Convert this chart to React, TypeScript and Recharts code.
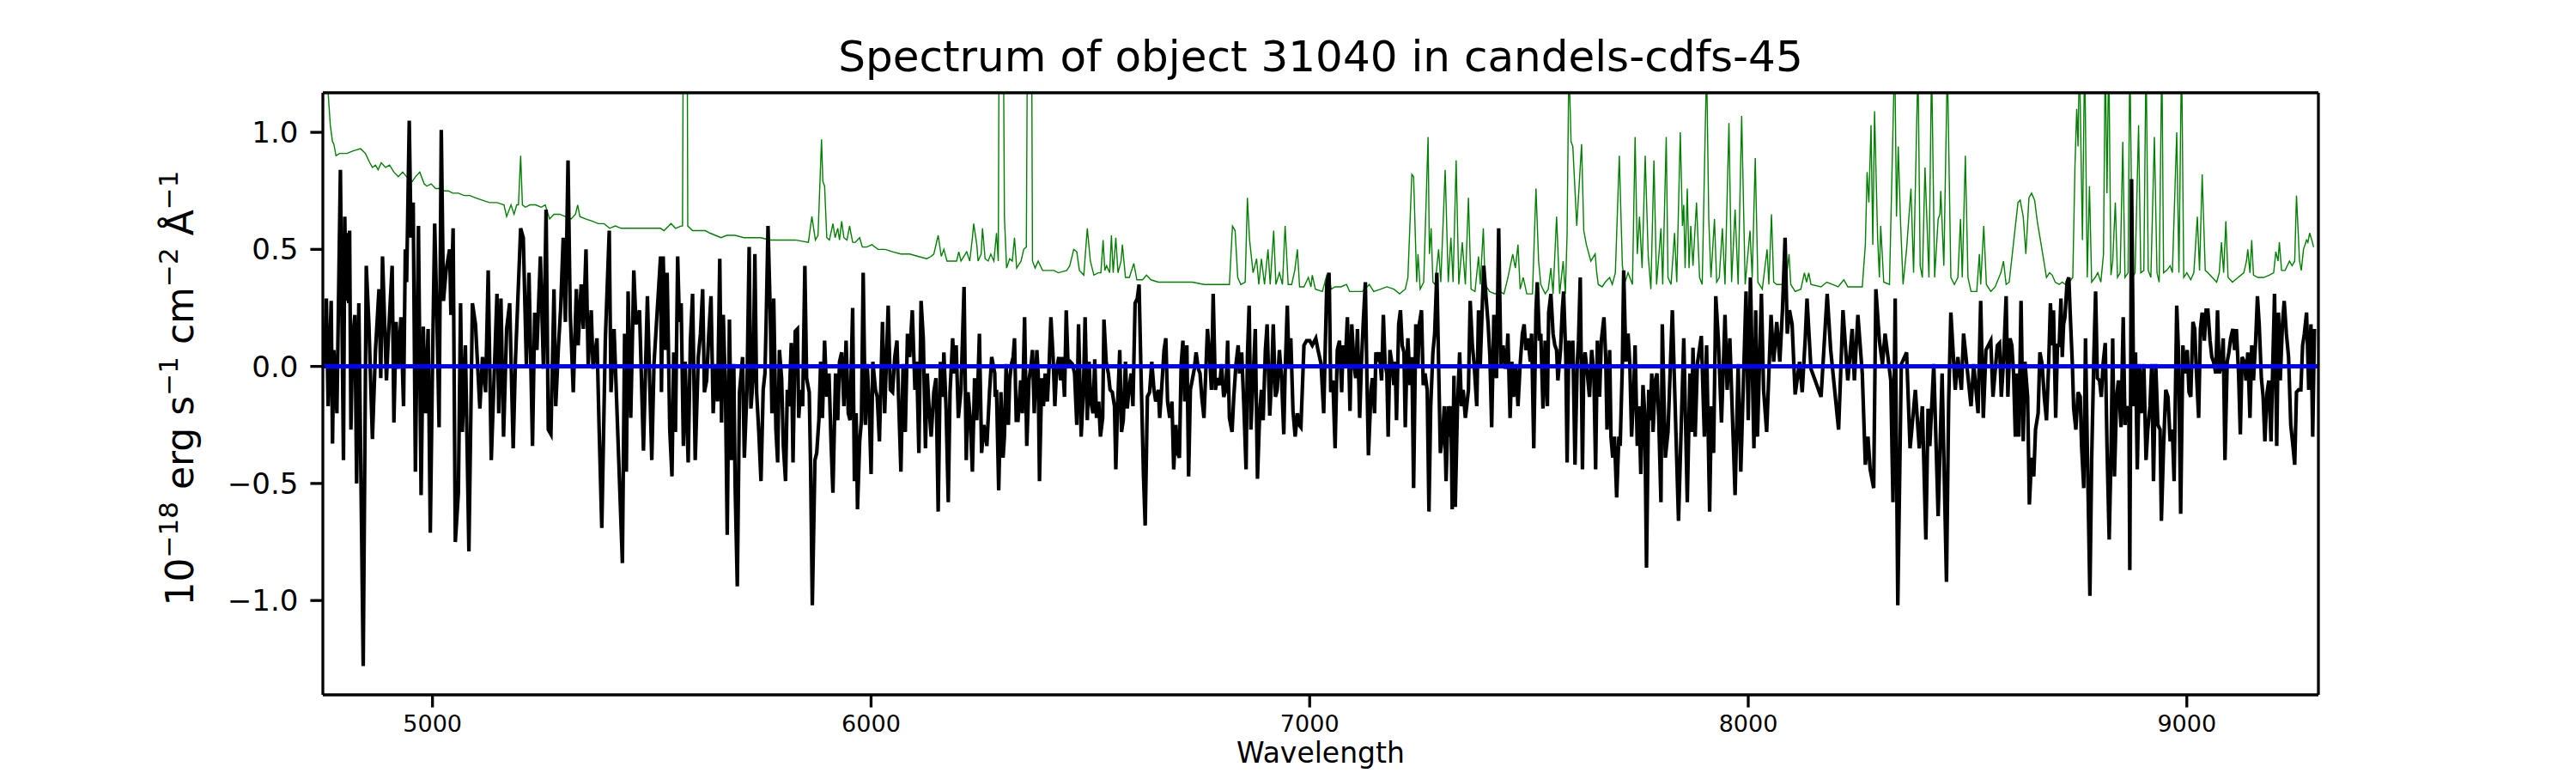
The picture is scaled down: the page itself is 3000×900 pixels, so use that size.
import React from 'react'
import { LineChart, Line, XAxis, YAxis, ReferenceLine } from 'recharts'

// wavelength (Angstrom), flux (1e-18 erg/s/cm2/A)
const spectrumFlux: [number, number][] = [
  [4754,0.01],[4758,0.29],[4762,-0.17],[4769,0.28],[4772,-0.33],[4775,0.07],[4782,-0.20],[4790,0.84],[4797,-0.40],[4800,0.64],
  [4803,0.28],[4807,0.57],[4809,0.27],[4811,0.58],[4814,-0.27],[4818,0.12],[4823,0.22],[4827,-0.50],[4832,0.27],[4842,-1.28],
  [4849,0.43],[4855,0.18],[4863,-0.31],[4870,0.07],[4878,0.33],[4882,-0.05],[4886,0.47],[4895,-0.06],[4899,0.11],[4908,0.43],
  [4912,-0.24],[4917,0.19],[4922,-0.01],[4928,0.21],[4934,-0.17],[4938,0.50],[4941,0.36],[4947,1.05],[4951,0.55],[4956,0.70],
  [4961,-0.45],[4968,0.60],[4974,-0.55],[4979,0.17],[4984,-0.20],[4990,0.16],[4995,-0.71],[5000,0.01],[5005,0.61],[5010,0.22],
  [5015,-0.26],[5020,1.01],[5025,0.28],[5031,0.41],[5039,0.50],[5042,0.22],[5047,0.59],[5052,-0.75],[5059,-0.54],[5064,0.27],
  [5068,-0.28],[5075,0.09],[5083,-0.79],[5091,0.27],[5098,0.18],[5108,-0.18],[5114,0.04],[5121,-0.11],[5127,0.41],[5134,-0.40],
  [5147,0.31],[5151,-0.20],[5156,0.29],[5162,-0.30],[5169,0.16],[5176,0.27],[5184,-0.35],[5189,0.02],[5201,0.59],[5207,0.55],
  [5214,0.01],[5220,0.40],[5228,-0.34],[5233,0.23],[5238,0.07],[5246,0.47],[5253,-0.01],[5259,0.67],[5264,-0.27],[5270,-0.29],
  [5277,0.33],[5281,-0.17],[5287,0.08],[5292,0.24],[5298,0.55],[5303,0.19],[5309,0.88],[5314,0.23],[5321,-0.11],[5328,0.33],
  [5332,0.09],[5339,0.35],[5344,0.16],[5350,0.50],[5355,0.01],[5362,0.24],[5366,-0.01],[5375,0.12],[5380,-0.27],[5386,-0.69],
  [5394,0.11],[5403,0.58],[5407,-0.11],[5414,0.16],[5433,-0.84],[5438,0.14],[5442,-0.45],[5446,0.32],[5452,-0.22],[5459,0.41],
  [5464,0.18],[5472,0.24],[5481,-0.36],[5490,0.30],[5500,-0.40],[5505,0.01],[5520,0.47],
  [5522,-0.11],[5526,0.47],[5531,0.07],[5535,0.40],[5541,-0.27],[5546,-0.47],[5550,0.06],[5554,-0.28],[5559,0.47],[5563,0.19],
  [5567,0.27],[5572,-0.34],[5576,0.02],[5583,-0.41],[5588,0.11],[5593,0.31],[5599,-0.40],[5606,0.04],[5611,0.14],[5616,0.33],
  [5620,-0.11],[5625,-0.06],[5630,0.14],[5635,0.30],[5640,-0.20],[5645,0.01],[5650,-0.15],[5655,0.46],[5659,-0.24],[5663,0.22],
  [5668,-0.11],[5672,-0.72],[5677,0.20],[5682,-0.40],[5687,0.01],[5690,-0.51],[5695,-0.94],[5700,-0.11],[5707,0.04],[5711,-0.39],
  [5717,-0.10],[5722,0.51],[5726,-0.18],[5731,-0.05],[5735,0.48],[5739,-0.11],[5744,-0.28],[5749,-0.49],[5754,-0.10],[5758,-0.03],
  [5761,0.21],[5765,0.60],[5770,0.24],[5774,-0.20],[5778,0.29],[5783,-0.27],[5787,-0.41],[5791,0.07],[5796,-0.05],[5800,-0.34],
  [5805,-0.49],[5809,-0.10],[5813,-0.17],[5818,0.10],[5822,-0.41],[5827,0.15],[5832,0.16],[5835,-0.22],[5839,-0.10],[5844,-0.17],
  [5849,0.43],[5853,-0.05],[5859,-0.11],[5862,-0.42],[5866,-1.02],[5872,-0.40],[5876,-0.37],[5881,-0.23],[5885,0.02],[5889,-0.22],
  [5894,0.11],[5899,-0.13],[5904,-0.03],[5909,-0.34],[5913,-0.54],[5919,-0.03],[5924,-0.23],[5928,0.02],[5933,0.06],[5938,-0.17],
  [5943,0.11],[5948,-0.20],[5952,-0.23],[5958,0.25],[5962,-0.49],[5966,-0.20],[5969,-0.61],[5974,-0.32],[5978,-0.23],[5982,0.40],
  [5987,-0.25],[5991,0.01],[5995,-0.13],[6000,-0.46],[6004,0.02],[6010,-0.10],[6014,-0.13],[6019,-0.32],[6026,0.19],[6031,-0.20],
  [6034,-0.03],[6039,0.26],[6044,-0.10],[6049,-0.11],[6054,0.04],[6059,0.11],[6063,-0.15],[6068,-0.45],[6073,0.01],[6078,-0.28],
  [6083,0.14],[6088,0.04],[6094,0.24],[6100,-0.10],[6104,0.02],[6109,-0.37],[6114,0.28],[6119,0.12],[6124,-0.35],[6128,-0.03],
  [6132,-0.17],[6137,-0.30],[6143,-0.11],[6148,-0.05],[6153,-0.62],[6158,0.02],[6163,-0.13],[6166,0.06],[6171,-0.18],[6176,-0.58],
  [6180,-0.11],[6186,0.12],[6190,-0.03],[6194,0.09],[6199,-0.22],[6205,-0.10],[6212,0.34],[6217,-0.40],[6221,-0.11],[6226,-0.22],
  [6231,-0.45],[6236,-0.05],[6241,-0.23],[6247,0.14],[6252,-0.37],[6257,-0.25],[6264,-0.34],[6270,-0.11],[6275,0.04],[6282,-0.03],
  [6283,-0.13],[6286,-0.10],[6291,-0.53],[6296,-0.11],[6301,-0.39],[6304,-0.30],[6308,0.01],[6313,-0.25],[6316,-0.06],[6320,0.01],
  [6324,0.04],[6327,0.12],[6331,-0.23],[6335,-0.23],[6341,-0.06],[6345,-0.20],[6350,0.21],[6355,-0.34],[6360,-0.06],[6365,0.01],
  [6368,0.07],[6372,-0.20],[6378,0.07],[6381,-0.03],[6384,-0.49],[6389,-0.05],[6393,-0.17],[6397,-0.03],[6402,-0.15],[6406,0.01],
  [6410,0.21],[6415,0.04],[6419,-0.17],[6423,-0.01],[6428,0.04],[6432,-0.06],[6436,0.04],[6441,-0.13],[6445,0.24],[6449,0.01],
  [6454,0.02],[6459,0.01],[6464,-0.03],[6469,-0.25],[6473,0.18],[6479,-0.30],[6484,-0.11],[6488,0.21],[6493,-0.23],[6497,0.02],
  [6501,-0.15],[6506,-0.20],[6510,0.03],[6514,-0.22],[6519,-0.15],[6523,-0.30],[6528,-0.22],[6531,0.20],[6536,0.02],[6541,-0.03],
  [6545,-0.10],[6550,-0.11],[6555,-0.17],[6558,-0.44],[6562,-0.17],[6567,0.07],[6571,-0.28],[6575,-0.23],[6580,0.02],[6584,-0.18],
  [6588,-0.10],[6593,-0.03],[6597,-0.17],[6602,0.27],[6607,0.29],[6611,0.35],[6615,0.01],[6621,-0.46],[6625,-0.68],[6630,-0.13],
  [6635,-0.11],[6640,0.02],[6645,-0.10],[6649,-0.15],[6655,-0.10],[6658,-0.22],[6662,-0.11],[6668,0.07],[6672,0.12],[6676,-0.15],
  [6681,-0.22],[6686,-0.15],[6690,-0.44],[6695,-0.25],[6699,-0.37],[6703,-0.39],[6707,0.01],[6711,0.11],[6715,-0.15],[6720,0.09],
  [6724,-0.47],[6728,-0.10],[6733,-0.05],[6737,-0.01],[6741,0.06],[6746,-0.01],[6750,-0.03],[6754,-0.13],[6759,-0.22],[6763,-0.03],
  [6767,0.16],[6772,0.04],[6776,-0.10],[6780,0.31],[6785,-0.10],[6790,-0.05],[6795,-0.08],[6799,0.01],[6804,-0.13],[6809,-0.10],
  [6813,0.11],[6817,-0.22],[6823,-0.28],[6827,-0.13],[6832,0.01],[6837,0.09],[6840,-0.03],[6845,0.06],[6850,-0.17],[6855,-0.44],
  [6858,0.04],[6862,0.26],[6866,-0.27],[6871,-0.06],[6876,0.16],[6881,-0.48],[6886,-0.20],[6890,-0.10],[6894,-0.23],[6899,0.07],
  [6903,0.18],[6909,-0.21],[6913,-0.06],[6917,0.18],[6922,-0.13],[6926,-0.10],[6931,0.07],[6936,-0.05],[6941,-0.29],[6944,-0.03],
  [6949,0.26],[6953,-0.01],[6957,0.12],[6962,-0.19],[6967,-0.30],[6972,-0.20],[6976,-0.25],[6980,-0.26],[6987,0.09],[6993,0.11],
  [7000,0.11],[7006,0.09],[7014,0.12],[7019,0.07],[7026,0.01],[7032,-0.20],[7039,0.35],[7044,0.40],
  [7045,0.33],[7048,-0.11],[7053,-0.06],[7058,-0.35],[7063,0.07],[7068,0.11],[7073,-0.11],[7076,0.09],[7081,0.01],[7086,0.21],
  [7090,-0.03],[7092,-0.19],[7096,0.18],[7101,0.01],[7105,-0.05],[7109,0.16],[7114,-0.22],[7118,0.01],[7122,0.18],[7127,0.36],
  [7130,0.01],[7134,-0.38],[7140,-0.10],[7143,-0.05],[7148,-0.20],[7151,0.06],[7155,0.02],[7159,0.06],[7164,-0.06],[7168,0.22],
  [7172,0.01],[7176,-0.03],[7179,-0.30],[7183,0.07],[7187,0.02],[7192,-0.08],[7195,0.02],[7198,-0.23],[7203,0.18],[7207,0.24],
  [7211,0.09],[7215,0.06],[7218,-0.26],[7221,-0.03],[7224,0.12],[7229,-0.08],[7233,0.04],[7237,-0.52],[7242,0.18],[7247,0.01],
  [7250,0.18],[7255,0.24],[7259,-0.08],[7263,-0.03],[7268,-0.10],[7272,-0.62],[7276,-0.17],[7281,0.06],[7285,0.14],[7290,0.40],
  [7294,0.01],[7298,-0.37],[7303,-0.30],[7307,-0.17],[7311,-0.49],[7316,-0.17],[7319,-0.30],[7322,-0.17],[7325,-0.61],[7329,-0.04],
  [7332,-0.60],[7337,-0.17],[7342,0.06],[7346,-0.17],[7350,-0.10],[7355,-0.22],[7358,-0.17],[7362,-0.10],[7366,0.28],[7371,0.09],
  [7375,0.01],[7381,-0.17],[7385,0.24],[7389,0.01],[7394,0.28],[7397,0.43],[7402,0.30],[7407,0.18],[7411,0.04],[7415,-0.26],
  [7420,0.22],[7423,-0.01],[7426,-0.05],[7431,0.59],[7436,0.01],[7441,0.09],[7446,-0.01],[7449,0.02],[7452,0.14],[7457,-0.22],
  [7461,0.02],[7465,-0.13],[7470,0.01],[7475,-0.17],[7480,0.01],[7485,0.14],[7489,0.18],[7493,0.07],[7498,0.12],[7503,0.02],
  [7506,0.14],[7511,-0.35],[7516,0.24],[7519,0.36],[7524,0.11],[7527,0.14],[7532,-0.18],[7537,0.11],[7542,-0.17],[7545,0.23],
  [7550,0.31],[7555,0.14],[7559,0.09],[7563,0.07],[7566,-0.06],[7572,0.07],[7576,0.24],[7579,0.32],[7584,0.04],[7587,-0.41],
  [7591,0.11],[7596,0.01],[7600,0.11],[7605,-0.42],[7610,0.01],[7613,0.11],[7617,0.38],[7622,-0.44],[7625,0.01],[7628,0.06],
  [7633,-0.03],[7638,-0.13],[7643,0.07],[7648,-0.03],[7652,-0.44],[7656,0.11],[7661,-0.13],[7665,0.11],[7671,0.21],[7675,0.04],
  [7678,-0.27],[7684,0.07],[7687,-0.30],[7691,-0.39],[7695,-0.30],[7700,-0.56],[7705,-0.30],[7708,-0.34],[7713,0.01],[7716,0.41],
  [7721,0.02],[7726,0.14],[7730,0.01],[7734,-0.30],[7739,-0.10],[7742,0.09],[7747,-0.34],[7751,-0.17],[7755,-0.46],[7760,-0.08],
  [7764,-0.20],[7768,-0.86],[7773,-0.10],[7776,-0.23],[7780,-0.03],[7783,-0.28],[7788,-0.06],[7792,-0.03],[7796,-0.23],[7801,-0.58],
  [7804,0.18],
  [7811,-0.39],[7817,-0.28],[7827,0.24],[7841,-0.66],[7853,0.12],[7861,-0.58],[7867,-0.03],[7871,-0.28],[7874,0.08],[7879,-0.30],
  [7884,0.01],[7893,0.13],[7900,-0.30],[7905,0.09],[7912,-0.62],[7916,-0.17],[7921,-0.37],[7926,0.30],[7932,0.11],[7939,-0.24],
  [7947,0.22],[7952,-0.10],[7958,0.12],[7970,-0.55],[7977,0.01],[7983,-0.45],[7995,0.32],[8000,-0.23],[8005,0.38],[8013,-0.35],
  [8017,0.24],[8021,-0.30],[8030,0.31],[8035,-0.10],[8042,-0.28],[8052,0.22],[8058,0.02],[8065,0.19],[8072,0.02],[8078,0.24],
  [8084,0.55],[8089,0.14],[8094,0.24],[8100,0.18],[8107,-0.12],[8117,0.02],[8123,-0.11],[8130,0.12],[8134,0.29],[8143,-0.01],
  [8166,-0.13],[8180,0.31],[8188,0.07],[8206,-0.27],[8216,0.24],[8227,-0.06],[8237,0.16],[8242,-0.06],[8250,0.22],[8260,-0.03],
  [8267,-0.42],[8273,-0.30],[8278,-0.44],[8286,-0.52],[8291,0.33],[8299,0.11],[8306,0.01],[8312,0.14],[8325,-0.06],[8330,-0.58],
  [8335,0.29],[8341,-1.02],[8349,0.01],[8361,0.06],[8369,-0.35],[8381,-0.10],[8390,-0.35],[8397,-0.17],[8405,-0.74],[8410,-0.18],
  [8414,-0.34],[8423,0.01],[8433,-0.64],[8442,-0.03],[8452,-0.92],[8457,-0.15],[8462,0.23],[8472,-0.10],[8478,0.04],[8486,-0.10],
  [8491,0.14],[8508,-0.17],[8514,0.01],[8524,-0.20],[8530,0.28],[8536,-0.22],[8542,0.07],[8553,0.11],[8558,-0.13],[8568,0.09],
  [8573,0.10],[8577,-0.13],[8582,0.02],[8588,0.30],[8592,-0.13],[8597,0.12],[8601,0.09],[8605,-0.03],[8609,-0.30],[8613,-0.03],
  [8617,-0.30],[8622,0.28],[8627,-0.32],[8631,0.02],[8637,-0.13],[8641,-0.59],[8646,-0.39],[8651,-0.47],[8655,-0.27],[8661,-0.20],
  [8665,0.06],[8670,0.01],[8675,-0.13],[8680,-0.23],[8685,0.01],[8689,0.27],[8693,0.09],[8696,0.24],[8701,-0.22],[8705,0.09],
  [8709,0.09],[8713,0.29],[8716,0.04],[8719,0.18],[8722,0.21],[8727,0.36],[8731,0.38],[8734,0.23],[8739,0.01],[8742,-0.18],
  [8747,-0.27],[8752,-0.11],[8757,-0.13],[8760,-0.34],[8765,-0.52],[8769,0.12],[8773,-0.34],[8779,-0.98],[8783,-0.40],[8788,0.04],
  [8792,0.32],[8796,-0.05],[8801,-0.06],[8805,-0.13],[8809,0.01],[8814,0.10],[8818,-0.34],[8823,-0.74],[8827,-0.39],[8831,0.12],
  [8835,-0.47],[8840,-0.13],[8844,-0.06],[8850,-0.26],[8855,0.21],[8859,-0.25],[8863,-0.17],[8868,-0.23],[8870,-0.87],[8874,0.80],
  [8879,-0.17],[8883,0.06],[8887,-0.44],[8892,0.01],[8896,-0.20],[8902,0.01],[8907,-0.40],[8911,-0.27],[8916,-0.17],[8920,0.01],
  [8924,-0.49],[8929,0.01],[8934,-0.25],[8939,-0.27],[8942,-0.66],[8947,-0.34],[8952,-0.10],[8957,-0.13],[8962,-0.32],[8967,-0.27],
  [8971,-0.49],[8977,0.26],[8981,0.06],[8986,-0.63],[8991,0.09],[8996,-0.03],[9001,0.07],[9005,-0.11],[9009,-0.13],[9014,0.19],
  [9018,0.16],[9022,-0.03],[9027,-0.22],[9031,0.16],[9035,0.23],[9040,0.11],[9044,0.24],[9048,0.24],[9053,0.11],[9057,0.04],
  [9061,0.02],[9066,-0.03],[9070,0.24],[9074,-0.03],[9079,0.01],[9083,0.12],[9087,-0.40],[9092,0.02],[9096,0.06],[9100,0.12],
  [9105,0.16],[9109,0.07],[9113,0.16],[9118,-0.03],[9122,-0.29],[9126,0.04],[9131,0.02],[9135,-0.06],[9139,0.06],[9144,-0.22],
  [9148,0.09],[9152,-0.06],[9157,0.11],[9161,0.30],[9165,0.18],[9170,-0.05],[9174,-0.13],[9178,-0.32],[9183,-0.11],[9187,-0.06],
  [9192,-0.32],[9196,0.01],[9200,0.31],[9205,-0.34],[9209,0.23],[9213,-0.06],[9218,0.18],[9222,0.28],[9227,0.14],[9232,0.04],
  [9237,-0.25],[9242,-0.34],[9246,-0.42],[9250,-0.11],[9255,-0.10],[9260,-0.10],[9264,0.09],[9268,0.14],[9273,0.23],[9278,-0.10],
  [9283,0.18],[9287,-0.30],[9291,0.16],
]

// noise spectrum, sky lines go off the top of the panel
const errorSpectrum: [number, number][] = [
  [4752,1.50],[4762,1.17],[4767,1.03],[4772,0.96],[4775,0.95],[4780,0.90],[4788,0.91],[4805,0.91],[4818,0.92],[4836,0.93],
  [4847,0.91],[4857,0.87],[4863,0.85],[4870,0.86],[4876,0.84],[4883,0.87],[4893,0.85],[4902,0.86],[4912,0.83],[4922,0.81],
  [4932,0.83],[4941,0.81],[4954,0.79],[4961,0.81],[4971,0.83],[4981,0.78],[4987,0.77],[4997,0.78],[5007,0.76],[5016,0.76],
  [5026,0.75],[5036,0.75],[5046,0.74],[5059,0.74],[5072,0.73],[5085,0.73],[5098,0.72],[5114,0.71],[5130,0.70],[5147,0.70],
  [5163,0.69],[5169,0.64],[5179,0.69],[5186,0.65],[5192,0.69],[5196,0.69],[5201,0.90],[5205,0.69],[5212,0.68],[5222,0.69],
  [5235,0.69],[5248,0.68],[5257,0.69],[5267,0.63],[5277,0.65],[5290,0.65],[5303,0.64],[5316,0.63],[5326,0.65],[5331,0.69],
  [5336,0.64],[5349,0.63],[5365,0.62],[5378,0.61],[5391,0.61],[5404,0.59],[5417,0.60],[5430,0.59],[5443,0.59],[5456,0.59],
  [5476,0.59],[5495,0.59],[5520,0.59],
  [5528,0.58],[5544,0.61],[5554,0.59],[5567,0.60],[5570,0.60],[5573,2.00],[5580,2.00],[5582,0.60],[5593,0.58],[5606,0.58],
  [5622,0.58],[5632,0.57],[5645,0.56],[5658,0.55],[5671,0.56],[5690,0.56],[5710,0.55],[5730,0.55],[5749,0.55],[5769,0.54],
  [5782,0.54],[5801,0.54],[5827,0.54],[5857,0.53],[5865,0.64],[5873,0.54],[5879,0.56],[5887,0.97],[5890,0.79],[5894,0.77],
  [5899,0.55],[5905,0.54],[5913,0.61],[5918,0.55],[5924,0.59],[5928,0.54],[5933,0.62],[5938,0.55],[5945,0.54],[5951,0.60],
  [5958,0.53],[5964,0.53],[5974,0.55],[5980,0.51],[5990,0.51],[6002,0.52],[6016,0.50],[6032,0.50],[6049,0.49],[6068,0.48],
  [6088,0.48],[6107,0.47],[6127,0.46],[6137,0.47],[6143,0.48],[6153,0.56],[6160,0.47],[6166,0.50],[6173,0.45],[6186,0.45],
  [6195,0.45],[6200,0.49],[6205,0.45],[6218,0.49],[6225,0.45],[6231,0.55],[6234,0.61],[6241,0.52],[6244,0.45],[6251,0.48],
  [6254,0.59],[6260,0.46],[6267,0.45],[6273,0.48],[6280,0.45],
  [6286,0.57],[6290,0.45],[6293,2.00],[6300,2.00],[6304,0.64],[6309,0.42],[6316,0.46],[6322,0.45],[6327,0.55],[6332,0.42],
  [6342,0.45],[6348,0.50],[6354,0.51],[6358,2.00],[6365,2.00],[6368,0.45],[6374,0.42],[6381,0.45],[6391,0.41],[6400,0.41],
  [6417,0.41],[6427,0.40],[6446,0.41],[6453,0.43],[6462,0.50],[6469,0.49],[6475,0.41],[6485,0.39],[6493,0.59],[6500,0.45],
  [6508,0.39],[6518,0.40],[6524,0.40],[6529,0.54],[6533,0.41],[6537,0.43],[6544,0.40],[6548,0.56],[6552,0.40],[6558,0.55],
  [6563,0.40],[6570,0.45],[6573,0.52],[6580,0.38],[6589,0.38],[6599,0.44],[6606,0.37],[6619,0.37],[6628,0.39],[6638,0.37],
  [6655,0.36],[6687,0.36],[6707,0.36],[6733,0.36],[6759,0.35],[6785,0.35],[6817,0.35],[6824,0.60],[6830,0.58],[6836,0.38],
  [6843,0.35],[6853,0.36],[6858,0.72],[6863,0.54],[6871,0.40],[6879,0.46],[6884,0.35],[6890,0.46],[6897,0.35],[6905,0.50],
  [6910,0.35],[6918,0.58],[6923,0.35],[6931,0.40],[6938,0.35],[6944,0.60],[6951,0.35],[6959,0.35],[6966,0.41],[6972,0.50],
  [6977,0.34],[6987,0.34],[6997,0.38],[7003,0.34],[7006,0.39],[7013,0.33],[7029,0.32],[7039,0.39],[7044,0.38],
  [7049,0.33],[7058,0.34],[7071,0.34],[7084,0.35],[7091,0.32],[7104,0.32],[7120,0.32],[7136,0.35],[7146,0.32],[7162,0.33],
  [7176,0.34],[7192,0.33],[7205,0.31],[7218,0.33],[7224,0.38],[7233,0.82],[7237,0.81],[7244,0.36],[7247,0.48],[7252,0.33],
  [7260,0.36],[7270,0.98],[7273,0.48],[7277,0.59],[7281,0.36],[7286,0.35],[7294,0.50],[7299,0.36],[7309,0.84],[7316,0.36],
  [7322,0.55],[7327,0.36],[7334,0.88],[7340,0.35],[7348,0.53],[7355,0.35],[7362,0.72],[7368,0.33],[7377,0.32],[7385,0.47],
  [7389,0.35],[7396,0.59],[7400,0.35],[7410,0.32],[7423,0.31],[7433,0.32],[7443,0.31],[7452,0.38],[7463,0.48],[7469,0.42],
  [7475,0.52],[7480,0.33],[7487,0.38],[7495,0.31],[7508,0.31],[7516,0.76],[7522,0.45],[7527,0.35],[7537,0.31],[7544,0.33],
  [7550,0.42],[7555,0.31],[7563,0.64],[7570,0.31],[7578,0.45],[7583,0.31],[7587,0.57],[7591,1.30],[7596,0.96],[7600,0.94],
  [7609,0.60],[7620,0.95],[7625,0.58],[7631,0.52],[7641,0.45],[7651,0.48],[7654,0.41],[7658,0.35],[7667,0.34],[7674,0.36],
  [7684,0.38],[7690,0.35],[7697,0.40],[7706,0.90],[7713,0.43],[7719,0.36],[7726,0.40],[7736,0.35],[7742,0.98],[7747,0.48],
  [7752,0.64],[7758,0.42],[7765,0.90],[7772,0.47],[7778,0.33],[7785,0.88],[7791,0.35],[7801,0.59],
  [7805,0.35],[7813,0.98],[7817,0.38],[7824,0.35],[7832,0.57],[7837,0.36],[7845,1.00],[7850,0.60],[7853,0.69],[7856,0.42],
  [7861,0.76],[7865,0.42],[7869,0.60],[7874,0.43],[7882,0.70],[7889,0.38],[7895,0.35],[7905,1.30],[7910,0.63],[7915,0.38],
  [7923,0.63],[7928,0.36],[7934,0.38],[7941,0.59],[7947,0.35],[7956,1.04],[7962,0.36],[7970,0.67],[7977,0.35],[7985,1.07],
  [7993,0.35],[8004,0.58],[8009,0.38],[8016,0.89],[8022,0.36],[8032,0.33],[8043,0.50],[8047,0.35],[8053,0.65],[8058,0.36],
  [8065,0.35],[8081,0.35],[8087,0.38],[8093,0.48],[8097,0.35],[8107,0.32],[8120,0.33],[8128,0.40],[8133,0.36],[8138,0.40],
  [8143,0.35],[8166,0.34],[8179,0.36],[8192,0.35],[8205,0.34],[8218,0.37],[8227,0.34],[8260,0.34],[8267,0.52],[8271,0.83],
  [8275,0.70],[8280,1.03],[8284,0.52],[8288,1.09],[8295,0.55],[8299,0.38],[8302,0.60],[8309,0.36],[8322,0.35],[8334,1.35],
  [8338,0.64],[8342,0.94],[8347,0.63],[8353,0.35],[8361,0.50],[8371,0.76],[8377,0.40],[8387,1.30],[8392,0.43],[8397,0.38],
  [8403,0.85],[8412,0.38],[8418,1.30],[8425,0.38],[8433,0.63],[8437,0.65],[8439,0.75],[8446,0.43],[8454,1.30],[8462,0.38],
  [8470,0.35],[8478,0.38],[8484,0.63],[8488,0.38],[8495,0.90],[8501,0.38],[8508,0.32],[8521,0.32],[8527,0.48],[8530,0.35],
  [8537,0.60],[8543,0.35],[8553,0.32],
  [8563,0.34],[8576,0.40],[8582,0.45],[8588,0.35],[8595,0.36],[8605,0.53],[8615,0.70],[8620,0.71],[8627,0.64],[8633,0.48],
  [8640,0.72],[8646,0.74],[8653,0.71],[8659,0.62],[8667,0.53],[8674,0.45],[8680,0.38],[8687,0.40],[8693,0.39],[8700,0.36],
  [8709,0.35],[8716,0.36],[8723,0.35],[8732,0.36],[8740,0.38],[8745,0.86],[8749,1.10],[8752,0.94],[8755,1.35],[8762,0.54],
  [8767,1.35],[8773,0.38],[8778,0.77],[8783,0.36],[8791,0.38],[8797,0.40],[8804,0.36],[8810,0.48],[8814,1.35],[8818,0.74],
  [8822,1.35],[8827,0.39],[8831,0.45],[8837,0.70],[8842,0.38],[8848,0.40],[8854,0.96],[8859,0.38],[8866,0.40],[8870,1.35],
  [8876,0.38],[8882,0.40],[8890,1.03],[8895,0.40],[8902,0.41],[8907,1.35],[8912,0.41],[8918,0.38],[8926,0.98],[8932,0.40],
  [8937,0.36],[8943,1.35],[8947,0.40],[8954,0.41],[8962,0.43],[8967,0.40],[8977,1.00],[8982,0.40],[8988,1.35],[8993,0.38],
  [9000,0.40],[9009,0.37],[9016,0.40],[9024,0.64],[9029,0.41],[9035,0.82],[9042,0.41],[9048,0.40],[9058,0.38],[9068,0.36],
  [9074,0.40],[9079,0.53],[9084,0.40],[9089,0.62],[9094,0.38],[9104,0.36],[9117,0.38],[9130,0.40],[9136,0.45],[9139,0.50],
  [9144,0.40],[9148,0.54],[9152,0.39],[9162,0.38],[9175,0.38],[9188,0.39],[9198,0.40],[9203,0.49],[9208,0.45],[9211,0.53],
  [9216,0.41],[9224,0.41],[9234,0.45],[9240,0.43],[9246,0.45],[9250,0.73],[9257,0.45],[9261,0.41],[9266,0.50],[9273,0.54],
  [9276,0.53],[9280,0.57],[9285,0.54],[9289,0.51],
]

// fitted model is flat at zero over the whole range
const modelSpectrum: [number, number][] = [[4750, 0], [9300, 0]]

const X_DOMAIN: [number, number] = [4750, 9300]
const Y_DOMAIN: [number, number] = [-1.403, 1.169]
const X_TICKS = [5000, 6000, 7000, 8000, 9000]
const Y_TICKS = [-1.0, -0.5, 0.0, 0.5, 1.0]

const FONT = '"DejaVu Sans", sans-serif'
const FRAME = 3.3

interface Row {
  w: number
  f: number
}

const toRows = (pts: [number, number][]): Row[] => pts.map(([w, f]) => ({ w, f }))

const fmtY = (v: number) => v.toFixed(1).replace('-', '\u2212')

const App: React.FC = () => {
  const flux = toRows(spectrumFlux)
  const err = toRows(errorSpectrum)
  const model = toRows(modelSpectrum)

  return (
    <div style={{ position: 'relative', width: 3000, height: 900, background: '#fff' }}>
      <style>{'body{margin:0}'}</style>
      <LineChart width={3000} height={900} margin={{ top: 108, right: 300, bottom: 0, left: 0 }}>
        <XAxis
          dataKey="w"
          type="number"
          domain={X_DOMAIN}
          allowDataOverflow
          ticks={X_TICKS}
          interval={0}
          height={91}
          tickSize={14.6}
          tickMargin={9}
          axisLine={{ stroke: '#000', strokeWidth: FRAME }}
          tickLine={{ stroke: '#000', strokeWidth: FRAME }}
          tick={{ fill: '#000', fontSize: 27, fontFamily: FONT }}
        />
        <YAxis
          type="number"
          domain={Y_DOMAIN}
          allowDataOverflow
          ticks={Y_TICKS}
          interval={0}
          width={376}
          tickSize={14.6}
          tickMargin={14}
          tickFormatter={fmtY}
          axisLine={{ stroke: '#000', strokeWidth: FRAME }}
          tickLine={{ stroke: '#000', strokeWidth: FRAME }}
          tick={{ fill: '#000', fontSize: 34, fontFamily: FONT }}
        />
        <Line data={err} dataKey="f" type="linear" stroke="#008000" strokeWidth={1.4}
          dot={false} activeDot={false} isAnimationActive={false} />
        <Line data={flux} dataKey="f" type="linear" stroke="#000000" strokeWidth={4.2}
          dot={false} activeDot={false} isAnimationActive={false} />
        <Line data={model} dataKey="f" type="linear" stroke="#0000ff" strokeWidth={5}
          dot={false} activeDot={false} isAnimationActive={false} />
        {/* top and right edges of the frame */}
        <ReferenceLine y={Y_DOMAIN[1]} stroke="#000" strokeWidth={FRAME} />
        <ReferenceLine x={X_DOMAIN[1]} stroke="#000" strokeWidth={FRAME} />
      </LineChart>

      <svg width={3000} height={900} style={{ position: 'absolute', left: 0, top: 0, pointerEvents: 'none' }}>
        <text x={1538} y={83} textAnchor="middle" fontSize={50} fontFamily={FONT} fill="#000">
          Spectrum of object 31040 in candels-cdfs-45
        </text>
        <text x={1538} y={888} textAnchor="middle" fontSize={33} fontFamily={FONT} fill="#000">
          Wavelength
        </text>
        <text transform="translate(225,452) rotate(-90)" textAnchor="middle" fontSize={44} fontFamily={FONT} fill="#000">
          <tspan>10</tspan>
          <tspan fontSize={31} dy={-18}>{'\u221218'}</tspan>
          <tspan dy={18}>{' erg s'}</tspan>
          <tspan fontSize={31} dy={-18}>{'\u22121'}</tspan>
          <tspan dy={18}>{' cm'}</tspan>
          <tspan fontSize={31} dy={-18}>{'\u22122'}</tspan>
          <tspan dy={18}>{' \u00c5'}</tspan>
          <tspan fontSize={31} dy={-18}>{'\u22121'}</tspan>
        </text>
      </svg>
    </div>
  )
}

export default App
